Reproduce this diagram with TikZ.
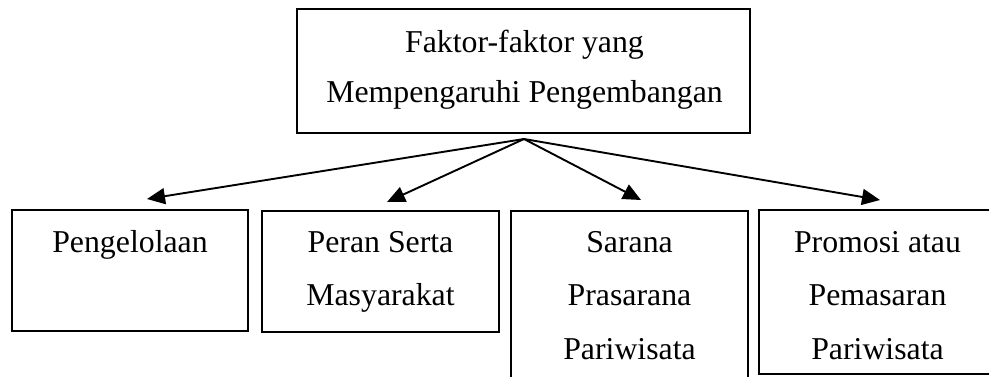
\documentclass[tikz,border=0pt]{standalone}
\usepackage{fontspec}
\setmainfont{Liberation Serif}
\usetikzlibrary{arrows.meta,fit}
\begin{document}
\begin{tikzpicture}[x=0.5pt,y=-0.5pt,
  box/.style={draw,line width=1pt,inner sep=0pt},
  lbl/.style={anchor=base,inner sep=0pt,font=\fontsize{15.9}{26.8}\selectfont},
  conn/.style={line width=0.95pt,-{Triangle[length=9pt,width=8pt]}}]
\useasboundingbox (0,0) rectangle (989,376);
% boxes
\node[box,fit={(297,9) (750,133)}] (top) {};
\node[box,fit={(12,210) (248,331)}] (b1) {};
\node[box,fit={(262,211) (499,332)}] (b2) {};
\node[box,fit={(511,211) (748,390)}] (b3) {};
\node[box,fit={(759,210) (996,374)}] (b4) {};
% texts
\node[lbl,font=\fontsize{15.9}{25}\selectfont] (t0) at (524.5,52)
  {\begin{tabular}[t]{@{}c@{}}Faktor-faktor yang\\Mempengaruhi Pengembangan\end{tabular}};
\node[lbl] (t1) at (130,252) {\begin{tabular}[t]{@{}c@{}}Pengelolaan\end{tabular}};
\node[lbl] (t2) at (380.5,252) {\begin{tabular}[t]{@{}c@{}}Peran Serta\\Masyarakat\end{tabular}};
\node[lbl] (t3) at (629.5,252) {\begin{tabular}[t]{@{}c@{}}Sarana\\Prasarana\\Pariwisata\end{tabular}};
\node[lbl] (t4) at (877.5,252) {\begin{tabular}[t]{@{}c@{}}Promosi atau\\Pemasaran\\Pariwisata\end{tabular}};
% connectors
\coordinate (src) at (524,139);
\coordinate (e1) at (147,199);
\coordinate (e2) at (387,202);
\coordinate (e3) at (641,200);
\coordinate (e4) at (880,200);
\draw[conn] (src) -- (e1);
\draw[conn] (src) -- (e2);
\draw[conn] (src) -- (e3);
\draw[conn] (src) -- (e4);
\end{tikzpicture}
\end{document}
